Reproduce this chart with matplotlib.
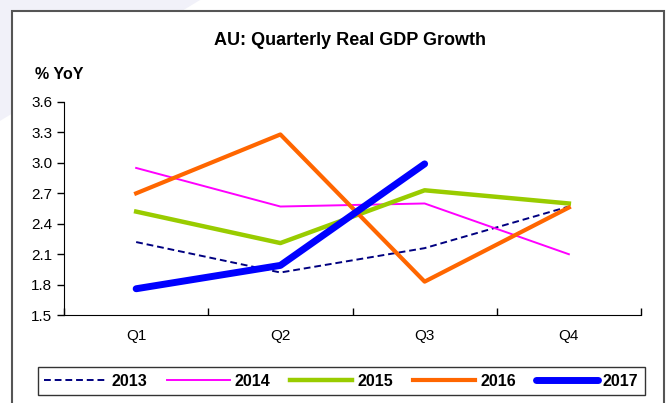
import numpy as np
import matplotlib.pyplot as plt
from matplotlib.patches import Rectangle, Polygon

plt.rcParams['font.family'] = ['Liberation Sans', 'DejaVu Sans']

quarters = ['Q1', 'Q2', 'Q3', 'Q4']
y2013 = [2.22, 1.92, 2.16, 2.57]
y2014 = [2.95, 2.57, 2.60, 2.10]
y2015 = [2.52, 2.21, 2.73, 2.60]
y2016 = [2.70, 3.28, 1.83, 2.56]
y2017 = [1.76, 1.99, 2.99]

fig = plt.figure(figsize=(6.67, 4.03), dpi=100)

# faint background shape behind the frame
fig.patches.append(Polygon([[0, 1], [0.3, 1], [0, 0.7]], closed=True,
                           transform=fig.transFigure, facecolor='#f1f1f9',
                           edgecolor='none', zorder=0))
fig.patches.append(Rectangle((0.018, -0.05), 0.978, 1.023, transform=fig.transFigure,
                             facecolor='white', edgecolor='#555555', linewidth=1.5, zorder=1))

ax = fig.add_axes([0.096, 0.218, 0.865, 0.529])
ax.set_zorder(2)
x = np.arange(len(quarters)) + 0.5

ax.plot(x, y2013, color='#000080', lw=1.4, ls=(0, (3.5, 2)), label='2013')
ax.plot(x, y2014, color='#ff00ff', lw=1.4, label='2014')
ax.plot(x, y2015, color='#99cc00', lw=3.2, label='2015')
ax.plot(x, y2016, color='#ff6600', lw=3.0, label='2016')
ax.plot(x[:len(y2017)], y2017, color='#0000ff', lw=5.0, solid_capstyle='round', label='2017')

ax.set_xlim(0, 4)
ax.set_ylim(1.5, 3.6)
ax.set_yticks(np.arange(1.5, 3.61, 0.3))
ax.set_yticklabels([f'{v:.1f}' for v in np.arange(1.5, 3.61, 0.3)])
ax.set_xticks(np.arange(0, 5))
ax.set_xticklabels([])
ax.set_xticks(x, minor=True)
ax.set_xticklabels(quarters, minor=True)
ax.tick_params(axis='x', which='major', direction='in', length=5, width=1)
ax.tick_params(axis='x', which='minor', length=0, pad=10, labelsize=11)
ax.tick_params(axis='y', direction='out', length=5, width=1, labelsize=11)
ax.spines['top'].set_visible(False)
ax.spines['right'].set_visible(False)
ax.set_facecolor('none')

fig.text(0.525, 0.9, 'AU: Quarterly Real GDP Growth', ha='center', va='center',
         fontsize=13, fontweight='bold', zorder=3)
fig.text(0.053, 0.815, '% YoY', ha='left', va='center', fontsize=11.5,
         fontweight='bold', zorder=3)

leg = fig.legend(loc='lower left', bbox_to_anchor=(0.057, 0.02, 0.91, 0.092),
                 mode='expand', ncol=5, handlelength=3.9, handletextpad=0.3,
                 columnspacing=0.5, borderaxespad=0, fancybox=False,
                 edgecolor='black', prop={'weight': 'bold', 'size': 11.5})
leg.get_frame().set_linewidth(1.0)
leg.set_zorder(3)

fig.savefig('out.png', dpi=100)
